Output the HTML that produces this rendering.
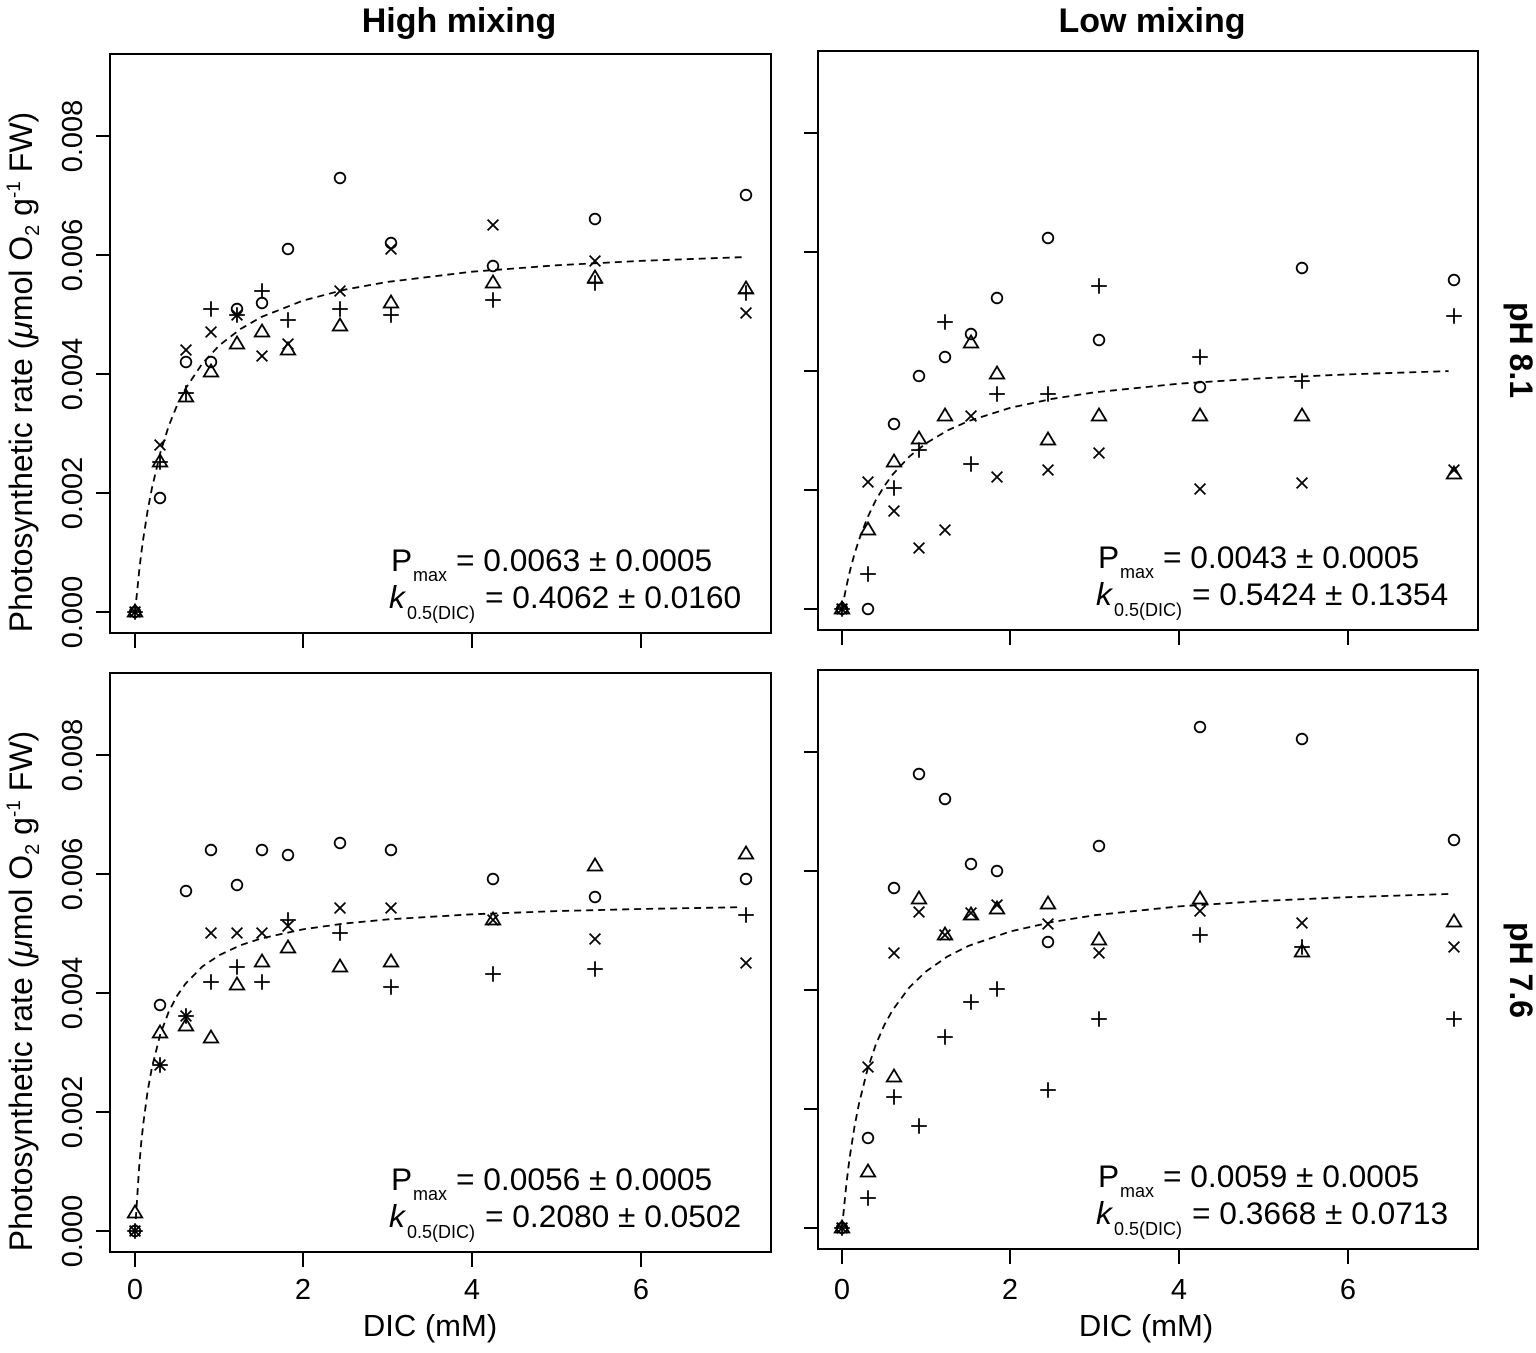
<!DOCTYPE html>
<html>
<head>
<meta charset="utf-8">
<style>
html,body{margin:0;padding:0;background:#fff;}
svg{display:block;}
text{font-family:"Liberation Sans",Arial,sans-serif;fill:#000;}
</style>
</head>
<body>
<svg width="1536" height="1353" viewBox="0 0 1536 1353" xmlns="http://www.w3.org/2000/svg">
<defs>
<circle id="o" r="5.3"/>
<path id="t" d="M0,-7.5 L7.2,4.5 L-7.2,4.5 Z"/>
<path id="p" d="M-7.8,0 H7.8 M0,-7.8 V7.8"/>
<path id="x" d="M-5.4,-5.4 L5.4,5.4 M-5.4,5.4 L5.4,-5.4"/>
</defs>
<rect width="1536" height="1353" fill="#fff"/>

<!-- Titles -->
<text x="459" y="32" font-size="34" font-weight="bold" text-anchor="middle">High mixing</text>
<text x="1152" y="32" font-size="34" font-weight="bold" text-anchor="middle">Low mixing</text>
<text transform="translate(1510,350) rotate(90)" font-size="32" font-weight="bold" text-anchor="middle">pH 8.1</text>
<text transform="translate(1510,970) rotate(90)" font-size="32" font-weight="bold" text-anchor="middle">pH 7.6</text>

<!-- Boxes and ticks -->
<g fill="none" stroke="#000" stroke-width="2">
<rect x="110" y="54" width="661" height="579"/>
<rect x="818" y="51" width="660" height="579"/>
<rect x="110" y="673" width="661" height="579"/>
<rect x="818" y="670" width="660" height="579"/>
<path d="M96,612H110 M96,493H110 M96,374H110 M96,255H110 M96,136H110"/>
<path d="M135,633V648 M303,633V648 M472,633V648 M641,633V648"/>
<path d="M804,609H818 M804,490H818 M804,371H818 M804,252H818 M804,133H818"/>
<path d="M842,630V645 M1010,630V645 M1179,630V645 M1348,630V645"/>
<path d="M96,1231H110 M96,1112H110 M96,993H110 M96,874H110 M96,755H110"/>
<path d="M135,1252V1267 M303,1252V1267 M472,1252V1267 M641,1252V1267"/>
<path d="M804,1228H818 M804,1109H818 M804,990H818 M804,871H818 M804,752H818"/>
<path d="M842,1249V1264 M1010,1249V1264 M1179,1249V1264 M1348,1249V1264"/>
</g>

<!-- Y tick labels -->
<g font-size="29" text-anchor="middle">
<text transform="translate(82,612) rotate(-90)">0.000</text>
<text transform="translate(82,493) rotate(-90)">0.002</text>
<text transform="translate(82,374) rotate(-90)">0.004</text>
<text transform="translate(82,255) rotate(-90)">0.006</text>
<text transform="translate(82,136) rotate(-90)">0.008</text>
<text transform="translate(82,1231) rotate(-90)">0.000</text>
<text transform="translate(82,1112) rotate(-90)">0.002</text>
<text transform="translate(82,993) rotate(-90)">0.004</text>
<text transform="translate(82,874) rotate(-90)">0.006</text>
<text transform="translate(82,755) rotate(-90)">0.008</text>
</g>

<!-- X tick labels -->
<g font-size="29" text-anchor="middle">
<text x="135" y="1299">0</text>
<text x="303" y="1299">2</text>
<text x="472" y="1299">4</text>
<text x="641" y="1299">6</text>
<text x="842" y="1299">0</text>
<text x="1010" y="1299">2</text>
<text x="1179" y="1299">4</text>
<text x="1348" y="1299">6</text>
</g>
<text x="430" y="1336" font-size="31" text-anchor="middle">DIC (mM)</text>
<text x="1146" y="1336" font-size="31" text-anchor="middle">DIC (mM)</text>

<!-- Y axis labels -->
<text transform="translate(32,372) rotate(-90)" font-size="32" text-anchor="middle">Photosynthetic rate (<tspan font-style="italic">μ</tspan>mol O<tspan font-size="20" dy="7">2</tspan><tspan dy="-7"> g</tspan><tspan font-size="19" dy="-12">-1</tspan><tspan dy="12"> FW)</tspan></text>
<text transform="translate(32,991) rotate(-90)" font-size="32" text-anchor="middle">Photosynthetic rate (<tspan font-style="italic">μ</tspan>mol O<tspan font-size="20" dy="7">2</tspan><tspan dy="-7"> g</tspan><tspan font-size="19" dy="-12">-1</tspan><tspan dy="12"> FW)</tspan></text>

<!-- Curves -->
<g fill="none" stroke="#000" stroke-width="1.8" stroke-dasharray="7 5">
<polyline points="135,612 137.1,592 139.2,570.9 141.3,553 143.4,537.9 147.6,510.9 151.9,488.3 160.3,452.8 168.7,426 177.1,405.2 185.6,388.5 202.4,363.4 219.3,345.4 240.3,329.1 261.4,317 303.5,300.4 345.6,289.5 387.8,281.9 472,271.7 556.3,265.3 640.5,260.9 741.6,257.2"/>
<polyline points="842,609 844.1,598 846.2,587.4 848.3,578 850.4,569.2 854.6,553.6 858.9,540.1 867.3,517.9 875.7,500.4 884.1,486.3 892.6,474.6 909.4,456.5 926.3,443.1 947.3,430.6 968.4,421.1 1010.5,407.7 1052.6,398.8 1094.8,392.3 1179,383.7 1263.3,378.2 1347.5,374.4 1448.6,371.1"/>
<polyline points="135,1231 137.1,1199 139.2,1166.4 141.3,1142 143.4,1122.8 147.6,1091.4 151.9,1067.7 160.3,1034.2 168.7,1011.8 177.1,995.7 185.6,983.6 202.4,966.5 219.3,955.2 240.3,945.3 261.4,938.4 303.5,929.2 345.6,923.4 387.8,919.4 472,914.3 556.3,911.1 640.5,909 741.6,907.2"/>
<polyline points="842,1228 844.1,1207 846.2,1185.9 848.3,1168 850.4,1152.8 854.6,1126.1 858.9,1104.1 867.3,1070.1 875.7,1044.9 884.1,1025.5 892.6,1010.1 909.4,987.3 926.3,971.2 947.3,956.6 968.4,945.9 1010.5,931.4 1052.6,921.9 1094.8,915.2 1179,906.4 1263.3,900.9 1347.5,897.2 1448.6,894"/>
</g>

<!-- Markers -->
<g fill="none" stroke="#000" stroke-width="1.8">
<!-- TL -->
<use href="#o" x="135" y="612"/><use href="#t" x="135" y="612"/><use href="#p" x="135" y="612"/><use href="#x" x="135" y="612"/>
<use href="#x" x="160" y="445"/><use href="#p" x="160" y="462"/><use href="#t" x="160" y="462"/><use href="#o" x="160" y="498"/>
<use href="#x" x="186" y="350"/><use href="#o" x="186" y="362"/><use href="#t" x="186" y="397"/><use href="#p" x="186" y="393"/>
<use href="#p" x="211" y="309"/><use href="#x" x="211" y="332"/><use href="#o" x="211" y="362"/><use href="#t" x="211" y="372"/>
<use href="#o" x="237" y="309"/><use href="#p" x="237" y="315"/><use href="#x" x="237" y="315"/><use href="#t" x="237" y="344"/>
<use href="#p" x="262" y="291"/><use href="#o" x="262" y="303"/><use href="#t" x="262" y="332"/><use href="#x" x="262" y="356"/>
<use href="#o" x="288" y="249"/><use href="#p" x="288" y="320"/><use href="#x" x="288" y="344"/><use href="#t" x="288" y="350"/>
<use href="#o" x="340" y="178"/><use href="#x" x="340" y="291"/><use href="#p" x="340" y="309"/><use href="#t" x="340" y="326"/>
<use href="#o" x="391" y="243"/><use href="#x" x="391" y="249"/><use href="#t" x="391" y="303"/><use href="#p" x="391" y="315"/>
<use href="#x" x="493" y="225"/><use href="#o" x="493" y="266"/><use href="#t" x="493" y="283"/><use href="#p" x="493" y="300"/>
<use href="#o" x="595" y="219"/><use href="#x" x="595" y="261"/><use href="#t" x="595" y="278"/><use href="#p" x="595" y="283"/>
<use href="#o" x="746" y="195"/><use href="#t" x="746" y="289"/><use href="#p" x="746" y="293"/><use href="#x" x="746" y="313"/>
<!-- TR -->
<use href="#o" x="842" y="609"/><use href="#t" x="842" y="609"/><use href="#p" x="842" y="609"/><use href="#x" x="842" y="609"/>
<use href="#o" x="868" y="609"/><use href="#p" x="868" y="574"/><use href="#t" x="868" y="530"/><use href="#x" x="868" y="482"/>
<use href="#o" x="894" y="424"/><use href="#t" x="894" y="462"/><use href="#p" x="894" y="488"/><use href="#x" x="894" y="511"/>
<use href="#o" x="919" y="376"/><use href="#t" x="919" y="439"/><use href="#p" x="919" y="450"/><use href="#x" x="919" y="548"/>
<use href="#p" x="945" y="322"/><use href="#o" x="945" y="357"/><use href="#t" x="945" y="416"/><use href="#x" x="945" y="530"/>
<use href="#o" x="971" y="334"/><use href="#t" x="971" y="343"/><use href="#x" x="971" y="416"/><use href="#p" x="971" y="464"/>
<use href="#o" x="997" y="298"/><use href="#t" x="997" y="374"/><use href="#p" x="997" y="394"/><use href="#x" x="997" y="477"/>
<use href="#o" x="1048" y="238"/><use href="#p" x="1048" y="394"/><use href="#t" x="1048" y="440"/><use href="#x" x="1048" y="470"/>
<use href="#p" x="1099" y="286"/><use href="#o" x="1099" y="340"/><use href="#t" x="1099" y="416"/><use href="#x" x="1099" y="453"/>
<use href="#p" x="1200" y="357"/><use href="#o" x="1200" y="387"/><use href="#t" x="1200" y="416"/><use href="#x" x="1200" y="489"/>
<use href="#o" x="1302" y="268"/><use href="#p" x="1302" y="381"/><use href="#t" x="1302" y="416"/><use href="#x" x="1302" y="483"/>
<use href="#o" x="1454" y="280"/><use href="#p" x="1454" y="316"/><use href="#x" x="1454" y="470"/><use href="#t" x="1454" y="474"/>
<!-- BL -->
<use href="#o" x="135" y="1231"/><use href="#p" x="135" y="1231"/><use href="#x" x="135" y="1231"/><use href="#t" x="135" y="1213"/>
<use href="#o" x="160" y="1005"/><use href="#t" x="160" y="1033"/><use href="#p" x="160" y="1065"/><use href="#x" x="160" y="1065"/>
<use href="#o" x="186" y="891"/><use href="#p" x="186" y="1016"/><use href="#x" x="186" y="1016"/><use href="#t" x="186" y="1026"/>
<use href="#o" x="211" y="850"/><use href="#x" x="211" y="933"/><use href="#p" x="211" y="982"/><use href="#t" x="211" y="1038"/>
<use href="#o" x="237" y="885"/><use href="#x" x="237" y="933"/><use href="#p" x="237" y="967"/><use href="#t" x="237" y="985"/>
<use href="#o" x="262" y="850"/><use href="#x" x="262" y="933"/><use href="#t" x="262" y="962"/><use href="#p" x="262" y="982"/>
<use href="#o" x="288" y="855"/><use href="#p" x="288" y="920"/><use href="#x" x="288" y="926"/><use href="#t" x="288" y="948"/>
<use href="#o" x="340" y="843"/><use href="#x" x="340" y="908"/><use href="#p" x="340" y="933"/><use href="#t" x="340" y="967"/>
<use href="#o" x="391" y="850"/><use href="#x" x="391" y="908"/><use href="#t" x="391" y="962"/><use href="#p" x="391" y="987"/>
<use href="#o" x="493" y="879"/><use href="#x" x="493" y="920"/><use href="#t" x="493" y="920"/><use href="#p" x="493" y="974"/>
<use href="#t" x="595" y="866"/><use href="#o" x="595" y="897"/><use href="#x" x="595" y="939"/><use href="#p" x="595" y="969"/>
<use href="#t" x="746" y="854"/><use href="#o" x="746" y="879"/><use href="#p" x="746" y="915"/><use href="#x" x="746" y="963"/>
<!-- BR -->
<use href="#o" x="842" y="1228"/><use href="#t" x="842" y="1228"/><use href="#p" x="842" y="1228"/><use href="#x" x="842" y="1228"/>
<use href="#x" x="868" y="1067"/><use href="#o" x="868" y="1138"/><use href="#t" x="868" y="1172"/><use href="#p" x="868" y="1198"/>
<use href="#o" x="894" y="888"/><use href="#x" x="894" y="953"/><use href="#t" x="894" y="1077"/><use href="#p" x="894" y="1097"/>
<use href="#o" x="919" y="774"/><use href="#t" x="919" y="899"/><use href="#x" x="919" y="912"/><use href="#p" x="919" y="1126"/>
<use href="#o" x="945" y="799"/><use href="#t" x="945" y="935"/><use href="#x" x="945" y="935"/><use href="#p" x="945" y="1037"/>
<use href="#o" x="971" y="864"/><use href="#x" x="971" y="913"/><use href="#t" x="971" y="915"/><use href="#p" x="971" y="1002"/>
<use href="#o" x="997" y="871"/><use href="#x" x="997" y="905"/><use href="#t" x="997" y="909"/><use href="#p" x="997" y="989"/>
<use href="#t" x="1048" y="904"/><use href="#x" x="1048" y="924"/><use href="#o" x="1048" y="942"/><use href="#p" x="1048" y="1090"/>
<use href="#o" x="1099" y="846"/><use href="#t" x="1099" y="940"/><use href="#x" x="1099" y="953"/><use href="#p" x="1099" y="1019"/>
<use href="#o" x="1200" y="727"/><use href="#t" x="1200" y="899"/><use href="#x" x="1200" y="911"/><use href="#p" x="1200" y="935"/>
<use href="#o" x="1302" y="739"/><use href="#x" x="1302" y="923"/><use href="#p" x="1302" y="947"/><use href="#t" x="1302" y="952"/>
<use href="#o" x="1454" y="840"/><use href="#t" x="1454" y="922"/><use href="#x" x="1454" y="947"/><use href="#p" x="1454" y="1019"/>
</g>

<!-- Annotations TL -->
<g font-size="31.7">
<text x="391" y="571">P</text>
<text x="413" y="581" font-size="18">max</text>
<text x="456" y="571">= 0.0063 ± 0.0005</text>
<text x="389" y="608" font-style="italic">k</text>
<text x="407" y="619" font-size="18">0.5(DIC)</text>
<text x="485" y="608">= 0.4062 ± 0.0160</text>
</g>
<!-- Annotations TR -->
<g font-size="31.7">
<text x="1098" y="568">P</text>
<text x="1120" y="578" font-size="18">max</text>
<text x="1163" y="568">= 0.0043 ± 0.0005</text>
<text x="1096" y="605" font-style="italic">k</text>
<text x="1114" y="616" font-size="18">0.5(DIC)</text>
<text x="1192" y="605">= 0.5424 ± 0.1354</text>
</g>
<!-- Annotations BL -->
<g font-size="31.7">
<text x="391" y="1190">P</text>
<text x="413" y="1200" font-size="18">max</text>
<text x="456" y="1190">= 0.0056 ± 0.0005</text>
<text x="389" y="1227" font-style="italic">k</text>
<text x="407" y="1238" font-size="18">0.5(DIC)</text>
<text x="485" y="1227">= 0.2080 ± 0.0502</text>
</g>
<!-- Annotations BR -->
<g font-size="31.7">
<text x="1098" y="1187">P</text>
<text x="1120" y="1197" font-size="18">max</text>
<text x="1163" y="1187">= 0.0059 ± 0.0005</text>
<text x="1096" y="1224" font-style="italic">k</text>
<text x="1114" y="1235" font-size="18">0.5(DIC)</text>
<text x="1192" y="1224">= 0.3668 ± 0.0713</text>
</g>
</svg>
</body>
</html>
